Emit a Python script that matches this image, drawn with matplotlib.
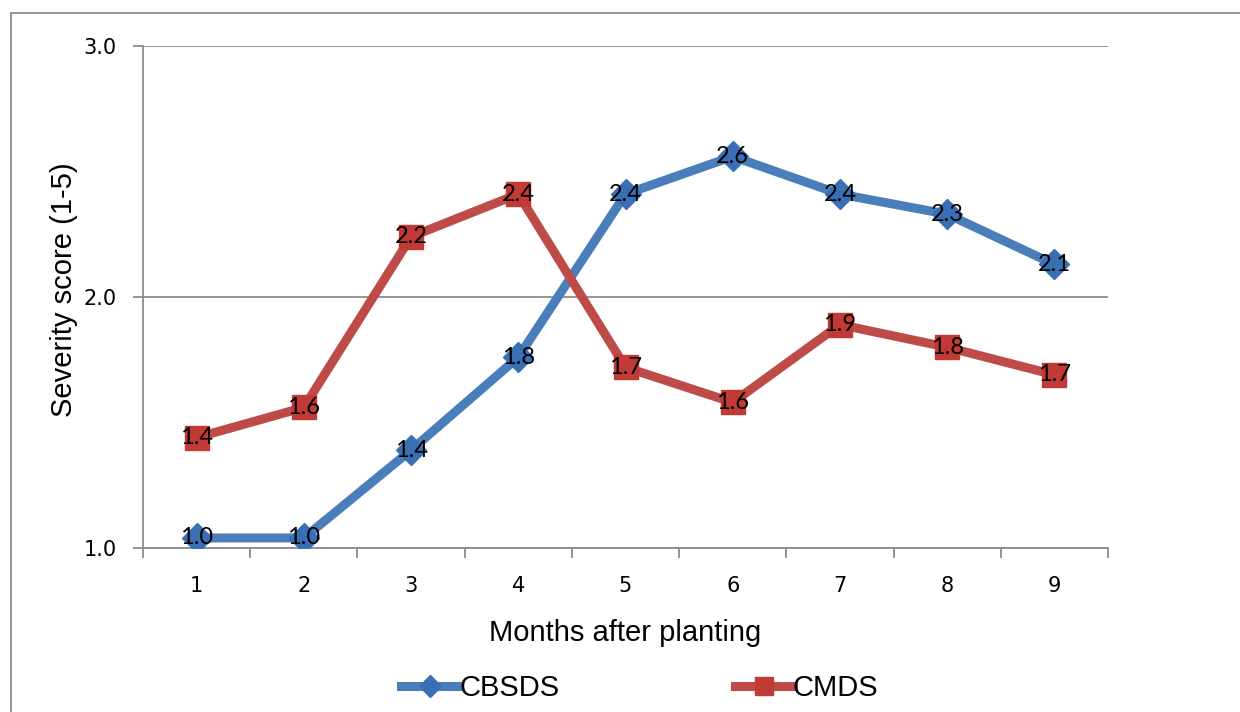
import matplotlib.pyplot as plt
from matplotlib.patches import Rectangle

# Severity scores by month after planting
months = [1, 2, 3, 4, 5, 6, 7, 8, 9]
cbsds = [1.04, 1.04, 1.39, 1.76, 2.41, 2.56, 2.41, 2.33, 2.13]
cmds = [1.44, 1.56, 2.24, 2.41, 1.72, 1.58, 1.89, 1.80, 1.69]

blue_line, blue_mark = '#4A7EBB', '#3A6FB5'
red_line, red_mark = '#BE4B48', '#C23A36'
grey = '#8C8C8C'

W, H = 1240, 712
fig = plt.figure(figsize=(W / 100, H / 100), dpi=100)
ax = fig.add_axes([143 / W, 1 - 548 / H, 965 / W, 502 / H])

# outer chart frame
fig.add_artist(Rectangle((11 / W, -0.1), 1.1, 1 - 13 / H + 0.1,
                         transform=fig.transFigure, fill=False,
                         edgecolor=grey, linewidth=1.3))

ax.plot(months, cbsds, color=blue_line, lw=6.5, marker='D', ms=15,
        mfc=blue_mark, mec=blue_mark, label='CBSDS', zorder=3)
ax.plot(months, cmds, color=red_line, lw=6.5, marker='s', ms=17,
        mfc=red_mark, mec=red_mark, label='CMDS', zorder=3)

for x, y in zip(months, cbsds):
    ax.text(x, y, f'{y:.1f}', ha='center', va='center', fontsize=17,
            family='Lato', zorder=5)
for x, y in zip(months, cmds):
    ax.text(x, y, f'{y:.1f}', ha='center', va='center', fontsize=17,
            family='Lato', zorder=5)

ax.set_xlim(0.5, 9.5)
ax.set_ylim(1.0, 3.0)
ax.set_yticks([1.0, 2.0, 3.0])
ax.set_yticklabels(['1.0', '2.0', '3.0'])
ax.set_xticks(months)
ax.set_xticks([m + 0.5 for m in range(0, 10)], minor=True)
ax.tick_params(axis='x', which='major', length=0, pad=20, labelsize=15)
ax.tick_params(axis='x', which='minor', length=7, color=grey, width=1.3)
ax.tick_params(axis='y', length=7, color=grey, width=1.3, labelsize=15, pad=12)

ax.grid(axis='y', color=grey, lw=1.3)
ax.set_axisbelow(True)
for side in ['top', 'right']:
    ax.spines[side].set_visible(False)
for side in ['left', 'bottom']:
    ax.spines[side].set_color(grey)
    ax.spines[side].set_linewidth(1.3)

# axis titles
fig.text(625 / W, 1 - 633 / H, 'Months after planting', ha='center', va='center',
         family='Liberation Sans', fontsize=21)
fig.text(64 / W, 1 - 290 / H, 'Severity score (1-5)', ha='center', va='center',
         rotation=90, family='Liberation Sans', fontsize=21)

fig.legend(loc='center', bbox_to_anchor=(0.516, 1 - 688 / H), ncol=2,
           frameon=False, handlelength=2.0, handletextpad=0.0, columnspacing=6.0,
           markerscale=0.75,
           prop={'family': 'Liberation Sans', 'size': 21})

fig.savefig('out.png', dpi=100)
